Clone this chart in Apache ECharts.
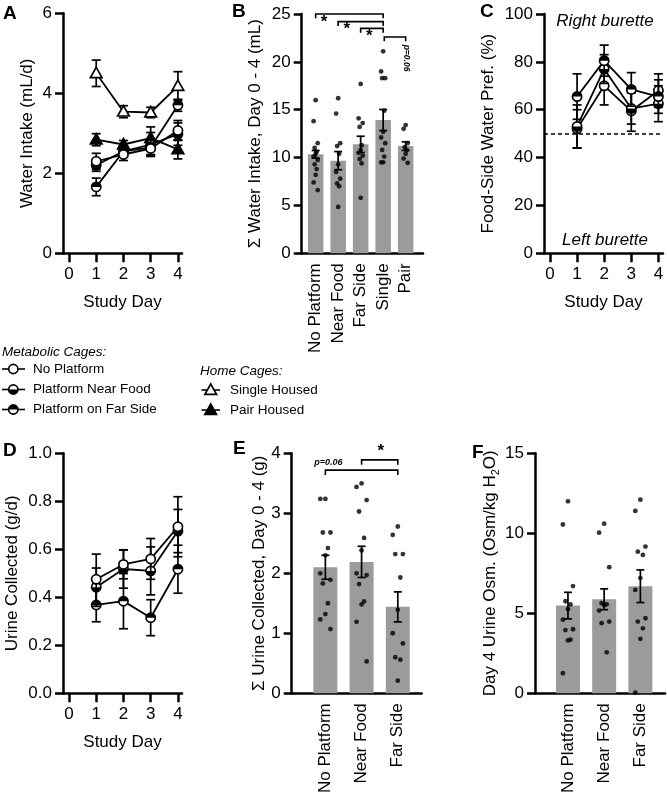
<!DOCTYPE html>
<html><head><meta charset="utf-8">
<script src="https://cdn.jsdelivr.net/npm/echarts@6/dist/echarts.min.js"></script>
<style>html,body{margin:0;padding:0;background:#fff}#c{width:667px;height:796px}</style>
</head><body><div id="c"></div><script>
const FONT = '"Liberation Sans", Arial, Helvetica, sans-serif';

// ---------- DATA ----------
const days = [1, 2, 3, 4];
const dayTicks = [0, 1, 2, 3, 4];

// A: Water intake (mL/d), mean and SEM
const A_noPlatform = [2.30, 2.47, 2.62, 3.07];
const A_noPlatformSem = [0.20, 0.15, 0.15, 0.25];
const A_nearFood = [2.20, 2.55, 2.72, 2.98];
const A_nearFoodSem = [0.15, 0.12, 0.30, 0.28];
const A_farSide = [1.66, 2.55, 2.65, 3.70];
const A_farSideSem = [0.22, 0.12, 0.20, 0.15];
const A_single = [4.50, 3.54, 3.52, 4.18];
const A_singleSem = [0.33, 0.15, 0.13, 0.36];
const A_pair = [2.84, 2.72, 2.88, 2.60];
const A_pairSem = [0.15, 0.10, 0.28, 0.24];

// B: total water intake day 0-4 (mL)
const B_cats = ['No Platform', 'Near Food', 'Far Side', 'Single', 'Pair'];
const B_means = [10.34, 9.68, 11.38, 13.92, 11.20];
const B_sem = [0.40, 0.95, 0.85, 1.10, 0.45];
const B_dots = [
  [16.0, 13.8, 11.5, 11.0, 10.6, 10.4, 10.1, 9.75, 9.3, 8.8, 8.2, 7.4, 6.6],
  [16.2, 14.6, 11.5, 11.2, 10.4, 9.3, 8.5, 7.8, 7.3, 7.0, 4.85],
  [17.7, 14.1, 13.6, 13.2, 11.3, 10.8, 10.5, 10.2, 9.85, 9.4, 5.8],
  [21.1, 19.0, 18.3, 18.3, 14.9, 12.7, 12.1, 11.5, 10.8, 10.1, 9.5, 9.5],
  [13.4, 13.0, 11.5, 11.1, 10.8, 10.4, 9.9, 9.45]
];

// C: food-side water preference (%)
const C_noPlatform = [52.0, 70.0, 59.5, 68.0];
const C_noPlatformSem = [8.0, 8.0, 8.5, 7.0];
const C_nearFood = [53.0, 77.0, 60.5, 62.5];
const C_nearFoodSem = [9.0, 6.0, 6.5, 7.5];
const C_farSide = [65.5, 80.5, 68.5, 65.5];
const C_farSideSem = [9.5, 6.5, 7.0, 7.0];
const C_chance = 50;

// D: urine collected (g/d)
const D_noPlatform = [0.475, 0.537, 0.560, 0.694];
const D_noPlatformSem = [0.105, 0.060, 0.085, 0.125];
const D_nearFood = [0.442, 0.518, 0.510, 0.676];
const D_nearFoodSem = [0.080, 0.080, 0.100, 0.090];
const D_farSide = [0.368, 0.384, 0.315, 0.517];
const D_farSideSem = [0.070, 0.115, 0.075, 0.100];

// E: total urine collected day 0-4 (g)
const E_cats = ['No Platform', 'Near Food', 'Far Side'];
const E_means = [2.10, 2.19, 1.44];
const E_sem = [0.20, 0.26, 0.25];
const E_dots = [
  [3.24, 3.24, 2.68, 2.68, 2.42, 2.30, 2.00, 1.89, 1.83, 1.50, 1.32, 1.23, 1.07],
  [3.50, 3.44, 3.22, 3.03, 2.59, 2.38, 2.00, 1.97, 1.82, 1.53, 1.48, 1.19, 0.53],
  [2.78, 2.64, 2.32, 2.32, 1.93, 1.39, 1.00, 0.83, 0.60, 0.56, 0.21]
];

// F: day 4 urine osmolality (Osm/kg H2O)
const F_cats = ['No Platform', 'Near Food', 'Far Side'];
const F_means = [5.48, 5.875, 6.69];
const F_sem = [0.83, 0.65, 1.02];
const F_dots = [
  [12.0, 10.55, 6.7, 5.75, 5.55, 5.25, 4.6, 4.0, 3.95, 3.35, 3.3, 1.25],
  [10.6, 10.04, 7.88, 5.63, 5.56, 5.5, 5.17, 4.48, 4.38, 2.56],
  [12.1, 11.4, 9.17, 8.85, 8.65, 7.2, 6.46, 4.69, 4.48, 4.06, 3.4, 0.04]
];

// significance annotations: [from, to, y, drop, label, labelX, labelY]
const B_sig = [
  [0, 3, 25.0, 0.45, '*', 0.37, 24.1],
  [1, 3, 24.2, 0.45, '*', 1.38, 23.35],
  [2, 3, 23.5, 0.45, '*', 2.38, 22.65],
  [3.05, 4, 22.6, 0.45, 'p=0.06', 4.04, 20.4]
];
const E_sig = [
  [0, 2, 3.72, 0.08, 'p=0.06', 0.08, 3.84],
  [1, 2, 3.89, 0.08, '*', 1.53, 4.03]
];

// ---------- HELPERS ----------
const JITTER = [0, -0.14, 0.14, -0.07, 0.07];
const BLACK = '#000';
const BAR = '#9b9b9b';

function markerShapes(kind, cx, cy) {
  const r = 4.6, lw = 1.7;
  if (kind === 'tri-open' || kind === 'tri-fill') {
    return [{ type: 'polygon', shape: { points: [[cx, cy - 6], [cx + 5.8, cy + 4.3], [cx - 5.8, cy + 4.3]] },
      style: { fill: kind === 'tri-fill' ? BLACK : '#fff', stroke: BLACK, lineWidth: lw } }];
  }
  const arr = [{ type: 'circle', shape: { cx: cx, cy: cy, r: r }, style: { fill: '#fff', stroke: BLACK, lineWidth: lw } }];
  if (kind === 'top') arr.push({ type: 'sector', shape: { cx: cx, cy: cy, r0: 0, r: r, startAngle: Math.PI, endAngle: 2 * Math.PI, clockwise: true }, style: { fill: BLACK } });
  if (kind === 'bottom') arr.push({ type: 'sector', shape: { cx: cx, cy: cy, r0: 0, r: r, startAngle: 0, endAngle: Math.PI, clockwise: true }, style: { fill: BLACK } });
  return arr;
}

function errRender(kind, cap) {
  return function (params, api) {
    const x = api.value(0), y = api.value(1), e = api.value(2);
    const c = api.coord([x, y]);
    const t = api.coord([x, y + e]);
    const b = api.coord([x, y - e]);
    const ls = { stroke: BLACK, lineWidth: 1.7 };
    const ch = [
      { type: 'line', shape: { x1: c[0], y1: t[1], x2: c[0], y2: b[1] }, style: ls },
      { type: 'line', shape: { x1: c[0] - cap, y1: t[1], x2: c[0] + cap, y2: t[1] }, style: ls },
      { type: 'line', shape: { x1: c[0] - cap, y1: b[1], x2: c[0] + cap, y2: b[1] }, style: ls }
    ];
    if (kind) ch.push.apply(ch, markerShapes(kind, c[0], c[1]));
    return { type: 'group', children: ch };
  };
}

function sigRender(fontSmall, rotateP) {
  return function (params, api) {
    const x1 = api.value(0), x2 = api.value(1), y = api.value(2), d = api.value(3);
    const lab = api.value(4), lx = api.value(5), ly = api.value(6);
    const p1 = api.coord([x1, y]), p2 = api.coord([x2, y]);
    const q1 = api.coord([x1, y - d]), q2 = api.coord([x2, y - d]);
    const lp = api.coord([lx, ly]);
    const ch = [{ type: 'polyline', shape: { points: [[q1[0], q1[1]], [p1[0], p1[1]], [p2[0], p2[1]], [q2[0], q2[1]]] },
      style: { stroke: BLACK, lineWidth: 1.6, fill: null } }];
    if (lab === '*') {
      ch.push({ type: 'text', x: lp[0], y: lp[1], style: { text: '*', font: 'bold 17px ' + FONT, fill: BLACK, align: 'center', verticalAlign: 'middle' } });
    } else {
      ch.push({ type: 'text', x: lp[0], y: lp[1], rotation: rotateP ? -Math.PI / 2 : 0,
        style: { text: lab, font: 'italic bold ' + fontSmall + 'px ' + FONT, fill: BLACK, align: 'center', verticalAlign: 'middle' } });
    }
    return { type: 'group', children: ch };
  };
}

const axisLineStyle = { color: BLACK, width: 2.5 };
const labelStyle = { color: BLACK, fontSize: 17, fontFamily: FONT };
const nameStyle = { color: BLACK, fontSize: 17, fontFamily: FONT };

function dayXAxis(grid, min, max) {
  return { gridIndex: grid, type: 'value', min: min, max: max,
    axisLine: { lineStyle: axisLineStyle, onZero: false },
    axisTick: { customValues: dayTicks, length: 9, lineStyle: { color: BLACK, width: 2.5 } },
    axisLabel: Object.assign({ customValues: dayTicks, margin: 13 }, labelStyle),
    splitLine: { show: false },
    name: 'Study Day', nameLocation: 'middle', nameGap: 41, nameTextStyle: nameStyle };
}
function catXAxis(grid, min, max, cats) {
  return { gridIndex: grid, type: 'value', min: min, max: max,
    axisLine: { lineStyle: axisLineStyle, onZero: false },
    axisTick: { show: false },
    axisLabel: Object.assign({ customValues: cats.map((c, i) => i), rotate: 90, margin: 10,
      formatter: v => cats[Math.round(v)] }, labelStyle),
    splitLine: { show: false } };
}
function yAx(grid, min, max, interval, name, gap, fmt, extraName) {
  return { gridIndex: grid, type: 'value', min: min, max: max, interval: interval,
    axisLine: { show: true, lineStyle: axisLineStyle, onZero: false },
    axisTick: { show: true, length: 8, lineStyle: { color: BLACK, width: 2.5 } },
    axisLabel: Object.assign({ margin: 11, formatter: fmt }, labelStyle),
    splitLine: { show: false },
    name: name, nameLocation: 'middle', nameRotate: 90, nameGap: gap,
    nameTextStyle: Object.assign({}, nameStyle, extraName || {}) };
}

function lineSet(ax, xs, ys, sem, kind) {
  const lineS = { type: 'line', xAxisIndex: ax, yAxisIndex: ax, data: xs.map((d, i) => [d, ys[i]]),
    symbol: 'none', lineStyle: { color: BLACK, width: 1.8 }, z: 2, silent: true };
  const markS = { type: 'custom', xAxisIndex: ax, yAxisIndex: ax, data: xs.map((d, i) => [d, ys[i], sem[i]]),
    renderItem: errRender(kind, 4.5), z: 3, clip: false, silent: true };
  return [lineS, markS];
}
function barSet(ax, means, sem, dots, width) {
  const out = [];
  out.push({ type: 'bar', xAxisIndex: ax, yAxisIndex: ax, data: means.map((v, i) => [i, v]),
    barWidth: width, itemStyle: { color: BAR }, z: 2, silent: true });
  const pts = [];
  dots.forEach((g, i) => g.forEach((v, k) => pts.push([i + JITTER[k % JITTER.length] * (width / 24), v])));
  out.push({ type: 'scatter', xAxisIndex: ax, yAxisIndex: ax, data: pts, symbolSize: 4.8,
    itemStyle: { color: BLACK }, z: 4, silent: true });
  out.push({ type: 'custom', xAxisIndex: ax, yAxisIndex: ax, data: means.map((v, i) => [i, v, sem[i]]),
    renderItem: errRender(null, 4), z: 5, clip: false, silent: true });
  return out;
}

// ---------- CHART ----------
const chart = echarts.init(document.getElementById('c'), null, { renderer: 'canvas', width: 667, height: 796 });

const grids = [
  { left: 63, top: 13.3, width: 119, height: 240 },     // A
  { left: 301.7, top: 14, width: 121.3, height: 239.3 }, // B
  { left: 544, top: 14, width: 119, height: 239.3 },     // C
  { left: 63, top: 453.3, width: 119, height: 240 },     // D
  { left: 291.7, top: 453.3, width: 130, height: 240 },  // E
  { left: 535, top: 453.3, width: 130, height: 240 }     // F
];

const xAxes = [
  dayXAxis(0, -0.22, 4.15),
  catXAxis(1, -0.62, 4.77, B_cats),
  dayXAxis(2, -0.22, 4.17),
  dayXAxis(3, -0.22, 4.15),
  catXAxis(4, -0.93, 2.66, E_cats),
  catXAxis(5, -0.91, 2.68, F_cats)
];
const yAxes = [
  yAx(0, 0, 6, 2, 'Water Intake (mL/d)', 27),
  yAx(1, 0, 25, 5, 'Σ Water Intake, Day 0 - 4 (mL)', 38),
  yAx(2, 0, 100, 20, 'Food-Side Water Pref. (%)', 47),
  yAx(3, 0, 1, 0.2, 'Urine Collected (g/d)', 42, v => v.toFixed(1)),
  yAx(4, 0, 4, 1, 'Σ Urine Collected, Day 0 - 4 (g)', 23),
  yAx(5, 0, 15, 5, 'Day 4 Urine Osm. (Osm/kg H{s|2}O)', 31, null,
    { rich: { s: { fontSize: 11, fontFamily: FONT, color: BLACK, verticalAlign: 'bottom', lineHeight: 22 } } })
];

let series = [];
// A
series = series.concat(lineSet(0, days, A_single, A_singleSem, 'tri-open'));
series = series.concat(lineSet(0, days, A_pair, A_pairSem, 'tri-fill'));
series = series.concat(lineSet(0, days, A_nearFood, A_nearFoodSem, 'bottom'));
series = series.concat(lineSet(0, days, A_farSide, A_farSideSem, 'top'));
series = series.concat(lineSet(0, days, A_noPlatform, A_noPlatformSem, 'open'));
// B
series = series.concat(barSet(1, B_means, B_sem, B_dots, 15.5));
series.push({ type: 'custom', xAxisIndex: 1, yAxisIndex: 1, data: B_sig, renderItem: sigRender(8.5, true), z: 6, clip: false, silent: true });
// C
const cLines = lineSet(2, days, C_noPlatform, C_noPlatformSem, 'open');
cLines[0].markLine = { silent: true, symbol: ['none', 'none'], label: { show: false },
  lineStyle: { color: BLACK, width: 1.6, type: [4, 3] }, data: [{ yAxis: C_chance }] };
series = series.concat(cLines);
series = series.concat(lineSet(2, days, C_nearFood, C_nearFoodSem, 'bottom'));
series = series.concat(lineSet(2, days, C_farSide, C_farSideSem, 'top'));
// D
series = series.concat(lineSet(3, days, D_farSide, D_farSideSem, 'top'));
series = series.concat(lineSet(3, days, D_nearFood, D_nearFoodSem, 'bottom'));
series = series.concat(lineSet(3, days, D_noPlatform, D_noPlatformSem, 'open'));
// E
series = series.concat(barSet(4, E_means, E_sem, E_dots, 24));
series.push({ type: 'custom', xAxisIndex: 4, yAxisIndex: 4, data: E_sig, renderItem: sigRender(9, false), z: 6, clip: false, silent: true });
// F
series = series.concat(barSet(5, F_means, F_sem, F_dots, 24));

// ---------- GRAPHIC (panel letters, legend, annotations) ----------
function txt(x, y, s, font, align, valign) {
  return { type: 'text', x: x, y: y, style: { text: s, font: font, fill: BLACK, align: align || 'left', verticalAlign: valign || 'middle', textAlign: align || 'left', textVerticalAlign: valign || 'middle' } };
}
const letterFont = 'bold 19px ' + FONT;
const legFont = '13.5px ' + FONT;
const legItalic = 'italic 13.5px ' + FONT;
const graphics = [
  txt(3, 14, 'A', letterFont), txt(232, 12, 'B', letterFont), txt(480, 12, 'C', letterFont),
  txt(3, 451, 'D', letterFont), txt(233, 449, 'E', letterFont), txt(472, 453, 'F', letterFont),
  txt(605, 21, 'Right burette', 'italic 17px ' + FONT, 'center'),
  txt(605, 240, 'Left burette', 'italic 17px ' + FONT, 'center'),
  txt(2, 352, 'Metabolic Cages:', legItalic),
  txt(200, 371, 'Home Cages:', legItalic)
];
const legRows = [
  ['open', 'No Platform', 2, 25, 13.3, 33, 369],
  ['bottom', 'Platform Near Food', 2, 25, 13.3, 33, 389.5],
  ['top', 'Platform on Far Side', 2, 25, 13.3, 33, 409.5],
  ['tri-open', 'Single Housed', 201.5, 220, 210.7, 230, 390],
  ['tri-fill', 'Pair Housed', 201.5, 220, 210.7, 230, 410]
];
legRows.forEach(r => {
  graphics.push({ type: 'line', shape: { x1: r[2], y1: r[6], x2: r[3], y2: r[6] }, style: { stroke: BLACK, lineWidth: 1.6 } });
  markerShapes(r[0], r[4], r[6]).forEach(s => graphics.push(s));
  graphics.push(txt(r[5], r[6], r[1], legFont));
});

chart.setOption({
  animation: false,
  backgroundColor: '#fff',
  textStyle: { fontFamily: FONT },
  grid: grids,
  xAxis: xAxes,
  yAxis: yAxes,
  series: series,
  graphic: { elements: graphics }
});
</script></body></html>
